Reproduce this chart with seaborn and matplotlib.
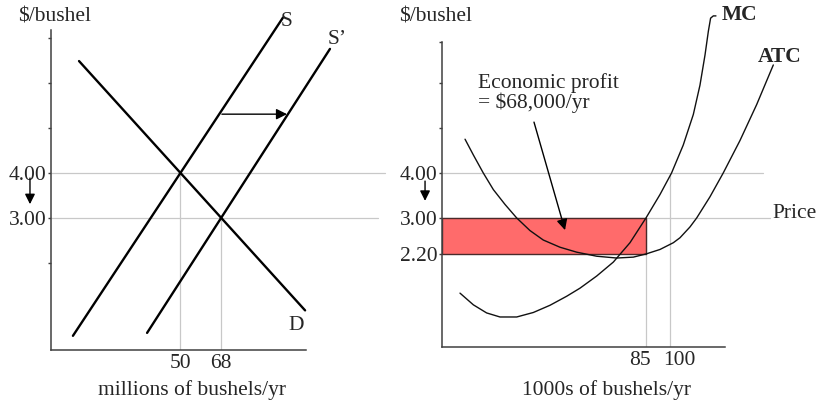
#!/usr/bin/env python3
"""Wheat market supply shift (left) and firm cost curves with profit box (right)."""

import matplotlib.pyplot as plt
import pandas as pd
import seaborn as sns
from matplotlib.transforms import ScaledTranslation

# ---- left panel: market ---------------------------------------------------
S_X = [2.5, 95.4]
S_Y = [0.385, 7.455]
S2_X = [35.3, 116.2]
S2_Y = [0.45, 6.76]
D_X = [5.2, 105.2]
D_Y = [6.49, 0.95]
MARKET_Q = [50, 68]
MARKET_P = [4.00, 3.00]
MARKET_YTICKS = [2, 3, 4, 5, 6, 7]
MARKET_YLABELS = ["", "3.00", "4.00", "", "", ""]

# ---- right panel: firm ----------------------------------------------------
MC_X = [-31.25, -22.9, -14.6, -6.25, 4.2, 14.6, 25.0, 35.4, 43.75, 54.2,
        64.6, 75.0, 85.0, 93.75, 101.0, 108.3, 114.6, 118.75, 121.9, 124.0,
        125.4, 127.1, 128.75]
MC_Y = [1.33, 1.07, 0.89, 0.80, 0.80, 0.90, 1.06, 1.26, 1.44, 1.71,
        2.02, 2.45, 3.00, 3.52, 4.00, 4.62, 5.30, 5.95, 6.62, 7.15,
        7.44, 7.49, 7.49]
ATC_X = [-28.1, -22.9, -16.7, -10.4, -3.1, 4.2, 12.5, 20.8, 31.25, 41.7,
         54.2, 66.7, 77.1, 85.0, 93.75, 102.1, 106.25, 112.5, 116.7, 125.0,
         133.3, 143.75, 154.2, 164.6]
ATC_Y = [4.75, 4.40, 4.00, 3.63, 3.30, 3.00, 2.72, 2.51, 2.35, 2.24,
         2.15, 2.11, 2.13, 2.20, 2.30, 2.45, 2.56, 2.80, 3.00, 3.47,
         4.00, 4.72, 5.52, 6.40]
FIRM_Q = [85, 100]
FIRM_P = [3.00, 4.00]
PRICE = 3.00
ATC_AT_Q = 2.20
FIRM_YTICKS = [2.2, 3, 4, 5, 6, 6.9]
FIRM_YLABELS = ["2.20", "3.00", "4.00", "", "", ""]

INK = "black"
GRID = "#c8c8c8"
SPINE = "#404040"
FILL = "#ff6b6b"
FS = 15.5


def style_axes(ax):
    sns.despine(ax=ax)
    for side in ("left", "bottom"):
        ax.spines[side].set_color(SPINE)
        ax.spines[side].set_linewidth(1.1)
    ax.tick_params(axis="y", left=True, direction="out", length=2.5,
                   width=1, color=SPINE, pad=0.5, labelsize=FS)
    ax.tick_params(axis="x", length=0, pad=3, labelsize=FS)
    ax.set_xlabel("")
    ax.set_ylabel("")
    ax.grid(False)


def down_arrow(ax, x, y0, y1):
    ax.annotate("", xy=(x, y1), xytext=(x, y0), annotation_clip=False,
                arrowprops=dict(arrowstyle="-|>", color=INK, lw=1,
                                mutation_scale=15, shrinkA=0, shrinkB=0))


def main():
    sns.set_style("white")
    plt.rcParams["font.family"] = ["Liberation Serif", "DejaVu Serif"]

    fig = plt.figure(figsize=(8.19, 4.05), dpi=100)
    ax1 = fig.add_axes([51 / 819, 1 - 350 / 405, 255 / 819, 320 / 405])
    ax2 = fig.add_axes([442 / 819, 1 - 347 / 405, 283 / 819, 305 / 405])

    # ---------------- left ----------------
    ax1.set_xlim(-7.2, 105.6)
    ax1.set_ylim(0.07, 7.18)
    ylo = ax1.get_ylim()[0]

    ax1.plot([-7.2, 140.6], [MARKET_P[0]] * 2, color=GRID, lw=0.9,
             clip_on=False, zorder=1)
    ax1.plot([-7.2, 137.5], [MARKET_P[1]] * 2, color=GRID, lw=0.9,
             clip_on=False, zorder=1)
    for q, p in zip(MARKET_Q, MARKET_P):
        ax1.plot([q, q], [ylo, p], color=GRID, lw=0.9, zorder=1)

    for xs, ys in ((S_X, S_Y), (S2_X, S2_Y), (D_X, D_Y)):
        sns.lineplot(x=xs, y=ys, color=INK, lw=1.7, ax=ax1, clip_on=False,
                     zorder=3)

    ax1.text(97.2, 7.36, "S", fontsize=FS, ha="center", va="center")
    ax1.text(119.3, 6.96, "S\u2019", fontsize=FS, ha="center", va="center")
    ax1.text(101.2, 0.62, "D", fontsize=FS, ha="center", va="center")

    ax1.annotate("", xy=(97.2, 5.31), xytext=(68.4, 5.31),
                 arrowprops=dict(arrowstyle="-|>", color=INK, lw=1,
                                 mutation_scale=16, shrinkA=0, shrinkB=0))
    down_arrow(ax1, -16.5, 3.89, 3.31)

    ax1.set_xticks(MARKET_Q)
    ax1.set_xticklabels([str(q) for q in MARKET_Q])
    ax1.set_yticks(MARKET_YTICKS)
    ax1.set_yticklabels(MARKET_YLABELS)
    style_axes(ax1)

    # ---------------- right ----------------
    ax2.set_xlim(-42.5, 134.4)
    ax2.set_ylim(0.133, 6.91)
    xlo = ax2.get_xlim()[0]
    ylo2 = ax2.get_ylim()[0]

    ax2.plot([xlo, 158], [4.0, 4.0], color=GRID, lw=0.9, clip_on=False,
             zorder=1)
    ax2.plot([xlo, 162.5], [PRICE, PRICE], color=GRID, lw=0.9,
             clip_on=False, zorder=1)
    for q, p in zip(FIRM_Q, FIRM_P):
        ax2.plot([q, q], [ylo2, p], color=GRID, lw=0.9, zorder=1)

    ax2.fill_between([xlo, FIRM_Q[0]], ATC_AT_Q, PRICE, facecolor=FILL,
                     edgecolor="#4a2a2a", lw=1, zorder=2)

    curves = pd.concat([
        pd.DataFrame({"q": MC_X, "cost": MC_Y, "curve": "MC"}),
        pd.DataFrame({"q": ATC_X, "cost": ATC_Y, "curve": "ATC"}),
    ])
    sns.lineplot(data=curves, x="q", y="cost", units="curve",
                 estimator=None, color="#111111", lw=1.0, ax=ax2,
                 clip_on=False, zorder=3)

    ax2.text(132.5, 7.51, "MC", fontsize=FS, fontweight="bold",
             ha="left", va="center")
    ax2.text(155.0, 6.58, "ATC", fontsize=FS, fontweight="bold",
             ha="left", va="center")
    ax2.text(163.75, 3.1, "Price", fontsize=FS, ha="left", va="center")
    ax2.text(-20, 6.0, "Economic profit", fontsize=FS, ha="left",
             va="center")
    ax2.text(-20, 5.56, "= $68,000/yr", fontsize=FS, ha="left", va="center")

    ax2.annotate("", xy=(34.4, 2.73), xytext=(15, 5.13),
                 arrowprops=dict(arrowstyle="-|>", color=INK, lw=1,
                                 mutation_scale=16, shrinkA=0, shrinkB=0))
    down_arrow(ax2, -53.1, 3.82, 3.38)

    ax2.set_xticks(FIRM_Q)
    ax2.set_xticklabels([str(q) for q in FIRM_Q])
    ax2.set_yticks(FIRM_YTICKS)
    ax2.set_yticklabels(FIRM_YLABELS)
    style_axes(ax2)
    for lbl, dx in zip(ax2.get_xticklabels(), [-4, 7]):
        lbl.set_transform(lbl.get_transform()
                          + ScaledTranslation(dx / 72, 0, fig.dpi_scale_trans))

    # axis titles as free text, like the slide
    fig.text(55 / 819, 1 - 17 / 405, "$/bushel", fontsize=FS, ha="center",
             va="center")
    fig.text(436 / 819, 1 - 17 / 405, "$/bushel", fontsize=FS, ha="center",
             va="center")
    fig.text(192 / 819, 1 - 390 / 405, "millions of bushels/yr", fontsize=FS,
             ha="center", va="center")
    fig.text(607 / 819, 1 - 390 / 405, "1000s of bushels/yr", fontsize=FS,
             ha="center", va="center")

    fig.savefig("out.png", dpi=100)


if __name__ == "__main__":
    main()
